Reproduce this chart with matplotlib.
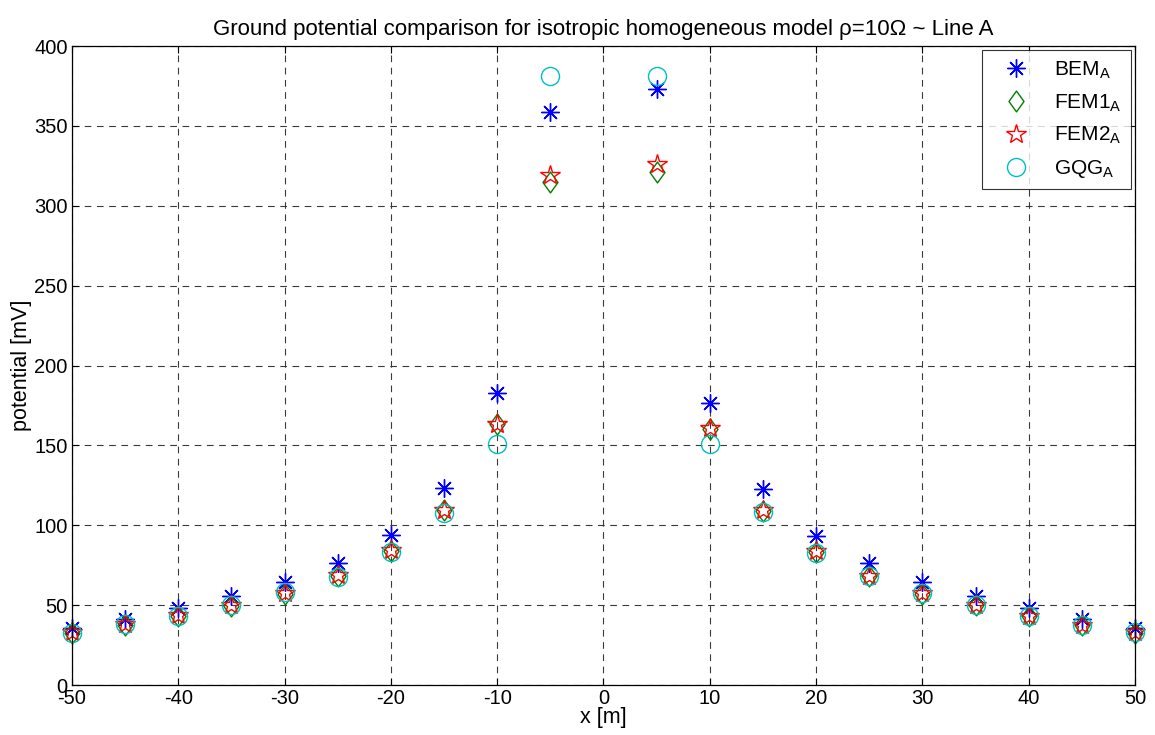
import matplotlib
matplotlib.use("Agg")
import matplotlib.pyplot as plt
from matplotlib.path import Path

plt.rcParams['font.family'] = ['Liberation Sans', 'DejaVu Sans']
plt.rcParams['mathtext.fontset'] = 'custom'
plt.rcParams['mathtext.rm'] = 'Liberation Sans'
plt.rcParams['mathtext.it'] = 'Liberation Sans'
plt.rcParams['axes.unicode_minus'] = False

# Observation points along Line A [m]
x_pos = [-50, -45, -40, -35, -30, -25, -20, -15, -10, -5,
         5, 10, 15, 20, 25, 30, 35, 40, 45, 50]

# Ground potential [mV] from each method
bem = [36.0, 41.6, 48.0, 55.8, 64.5, 76.6, 94.0, 123.4, 182.5, 358.5,
       373.0, 176.8, 122.4, 93.3, 76.3, 64.3, 56.0, 48.5, 41.4, 35.6]
fem1 = [32.5, 37.8, 43.3, 49.5, 57.0, 68.5, 83.8, 109.3, 163.6, 315.0,
        321.0, 160.0, 109.0, 83.0, 68.0, 57.2, 49.8, 43.0, 37.3, 32.8]
fem2 = [33.3, 38.3, 43.7, 50.2, 57.8, 68.9, 84.4, 109.5, 163.6, 319.0,
        326.0, 161.1, 109.4, 83.6, 68.5, 57.8, 50.4, 43.3, 37.6, 33.5]
gqg = [32.8, 37.9, 43.5, 49.8, 58.0, 67.8, 83.0, 107.8, 151.0, 381.5,
       381.5, 151.0, 108.4, 82.8, 68.1, 57.3, 49.8, 43.3, 37.3, 33.1]

x_ticks = list(range(-50, 51, 10))
y_ticks = list(range(0, 401, 50))

# MATLAB-like marker shapes
asterisk = (8, 2, 0)
diamond = Path([(0, 1), (0.72, 0), (0, -1), (-0.72, 0), (0, 1)],
               [Path.MOVETO, Path.LINETO, Path.LINETO, Path.LINETO, Path.CLOSEPOLY])

fig = plt.figure(figsize=(11.55, 7.35), dpi=100)
ax = fig.add_axes([0.0623, 0.068, 0.9204, 0.8694])

common = dict(linestyle='none', clip_on=False, markeredgewidth=1.0)
ax.plot(x_pos, bem, marker=asterisk, markersize=13,
        markeredgecolor=(0, 0, 1), label=r'BEM$_\mathrm{A}$', **common)
ax.plot(x_pos, fem1, marker=diamond, markersize=15, markerfacecolor='none',
        markeredgecolor=(0, 0.5, 0), label=r'FEM1$_\mathrm{A}$', **common)
ax.plot(x_pos, fem2, marker='*', markersize=15, markerfacecolor='none',
        markeredgecolor=(1, 0, 0), label=r'FEM2$_\mathrm{A}$', **common)
ax.plot(x_pos, gqg, marker='o', markersize=13, markerfacecolor='none',
        markeredgecolor=(0, 0.75, 0.75), label=r'GQG$_\mathrm{A}$', **common)

ax.set_xlim(-50, 50)
ax.set_ylim(0, 400)
ax.set_xticks(x_ticks)
ax.set_yticks(y_ticks)
ax.tick_params(direction='in', length=5, width=0.8, labelsize=14.5,
               top=True, right=True, pad=3)
ax.grid(True, linestyle=(0, (6, 5)), color='#3a3a3a', linewidth=0.8)
for s in ax.spines.values():
    s.set_linewidth(0.9)

ax.set_title('Ground potential comparison for isotropic homogeneous model ρ=10Ω ~ Line A',
             fontsize=16, pad=8)
ax.set_xlabel('x [m]', fontsize=15.5, labelpad=-1)
ax.set_ylabel('potential [mV]', fontsize=15.5, labelpad=2)

leg = ax.legend(loc='upper right', fontsize=15, frameon=True, fancybox=False,
                edgecolor='black', borderaxespad=0.2, handletextpad=0.6,
                labelspacing=0.55, borderpad=0.45, handlelength=2.4)
leg.get_frame().set_linewidth(0.8)

fig.savefig('out.png', dpi=100)
